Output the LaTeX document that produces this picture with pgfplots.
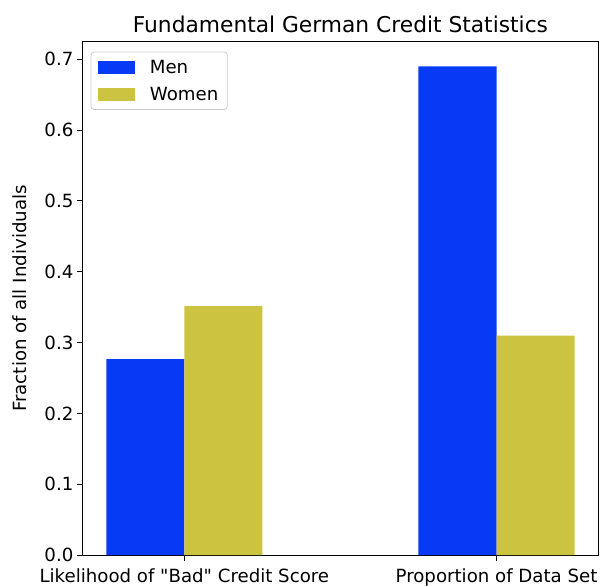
\documentclass[border=0pt]{standalone}
\usepackage{pgfplots}
\pgfplotsset{compat=1.18}
\usepackage{fontspec}
\setmainfont{DejaVu Sans}[Ligatures=TeXOff]
\definecolor{menblue}{RGB}{6,58,245}
\definecolor{womenyellow}{RGB}{204,196,64}
\begin{document}
\begin{tikzpicture}
\begin{axis}[
  name=ax,
  scale only axis,
  width=516pt, height=514pt,
  xmin=-0.325, xmax=1.325,
  ymin=0, ymax=0.7246,
  xtick={0,1},
  xticklabels={Likelihood of "Bad" Credit Score, Proportion of Data Set},
  ytick={0,0.1,0.2,0.3,0.4,0.5,0.6,0.7},
  yticklabel style={/pgf/number format/.cd, fixed, fixed zerofill, precision=1},
  /pgf/number format/assume math mode=true,
  xtick pos=bottom, ytick pos=left,
  tick align=outside,
  major tick length=6pt,
  tick style={black, line width=1pt},
  axis line style={line width=1pt},
  ticklabel style={font=\fontsize{18.2}{21}\selectfont},
  xticklabel style={anchor=base, inner ysep=0pt, yshift=-21.5pt},
  title={Fundamental German Credit Statistics},
  title style={font=\fontsize{21.8}{25}\selectfont, yshift=0pt},
  ylabel={Fraction of all Individuals},
  ylabel style={font=\fontsize{18.2}{21}\selectfont, yshift=11pt},
  legend style={at={(0.015,0.981)}, anchor=north west, draw=black!20, line width=0.8pt, rounded corners=3pt, font=\fontsize{18.2}{21}\selectfont, row sep=8pt, inner xsep=7pt, inner ysep=6pt, nodes={inner sep=2pt}},
  legend cell align=left,
  legend image code/.code={\fill[#1, sharp corners] (0pt,-6.5pt) rectangle (37pt,6.5pt);},
]
\addplot[ybar, bar width=0.25, bar shift=-0.125, fill=menblue, draw=none] coordinates {(0,0.2768) (1,0.69)};
\addlegendentry{\hspace{13pt}Men}
\addplot[ybar, bar width=0.25, bar shift=0.125, fill=womenyellow, draw=none] coordinates {(0,0.3516) (1,0.31)};
\addlegendentry{\hspace{13pt}Women\rule[-9pt]{0pt}{9pt}}
\end{axis}
\path ([shift={(-83pt,-31pt)}]ax.south west) rectangle ([shift={(3pt,42pt)}]ax.north east);
\end{tikzpicture}
\end{document}
